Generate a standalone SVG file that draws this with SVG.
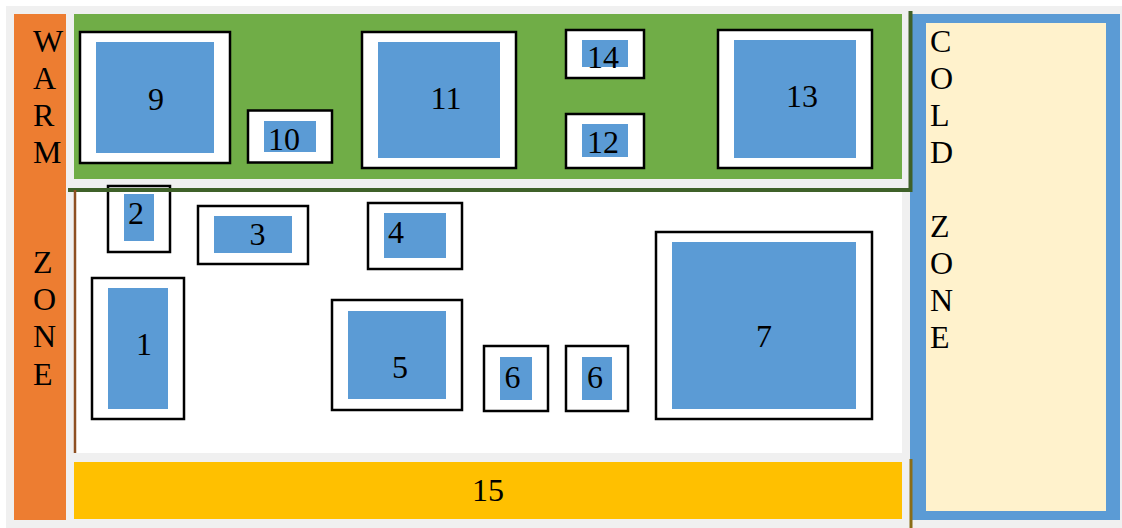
<svg xmlns="http://www.w3.org/2000/svg" width="1122" height="528" viewBox="0 0 1122 528">
  <style>
    .frame { fill: #ffffff; stroke: #000000; stroke-width: 2.5; }
    .core { fill: #5b9bd5; }
    .num { font-family: 'Liberation Serif', 'Times New Roman', serif; font-size: 32px; fill: #000000; text-anchor: middle; }
    .zone { font-family: 'Liberation Serif', 'Times New Roman', serif; font-size: 32px; fill: #000000; }
  </style>

  <!-- page -->
  <rect x="0" y="0" width="1122" height="528" fill="#ffffff"/>
  <rect x="6" y="6" width="1116" height="522" fill="#f0f0f0"/>

  <!-- zones -->
  <g id="warm-zone">
    <rect x="14" y="14" width="52" height="506" fill="#ed7d31"/>
    <text class="zone">
      <tspan x="33" y="52">W</tspan>
      <tspan x="33" y="89">A</tspan>
      <tspan x="33" y="126">R</tspan>
      <tspan x="33" y="163">M</tspan>
      <tspan x="33" y="273">Z</tspan>
      <tspan x="33" y="310">O</tspan>
      <tspan x="33" y="347">N</tspan>
      <tspan x="33" y="385">E</tspan>
    </text>
  </g>

  <g id="cold-zone">
    <rect x="910" y="14" width="210" height="506" fill="#5b9bd5"/>
    <rect x="926" y="23" width="180" height="488" fill="#fff2cc"/>
    <text class="zone">
      <tspan x="930" y="52">C</tspan>
      <tspan x="930" y="89">O</tspan>
      <tspan x="930" y="126">L</tspan>
      <tspan x="930" y="163">D</tspan>
      <tspan x="930" y="237">Z</tspan>
      <tspan x="930" y="274">O</tspan>
      <tspan x="930" y="311">N</tspan>
      <tspan x="930" y="348">E</tspan>
    </text>
  </g>

  <g id="upper-area">
    <rect x="74" y="14" width="828" height="165" fill="#70ad47"/>
  </g>

  <g id="floor-area">
    <rect x="74" y="191" width="828" height="262" fill="#ffffff"/>
  </g>

  <g id="n15">
    <rect x="74" y="462" width="828" height="57" fill="#ffc000"/>
    <text class="num" x="488" y="501">15</text>
  </g>

  <!-- upper row -->
  <g id="n9">
    <rect class="frame" x="80" y="32" width="150" height="131"/>
    <rect class="core" x="96" y="42" width="118" height="111"/>
    <text class="num" x="156" y="110">9</text>
  </g>
  <g id="n10">
    <rect class="frame" x="248" y="110.5" width="84" height="52"/>
    <rect class="core" x="264" y="121" width="52" height="31"/>
    <text class="num" x="284" y="150">10</text>
  </g>
  <g id="n11">
    <rect class="frame" x="362" y="32" width="154" height="136"/>
    <rect class="core" x="378" y="42" width="122" height="116"/>
    <text class="num" x="446" y="109">11</text>
  </g>
  <g id="n14">
    <rect class="frame" x="566" y="30" width="78" height="48"/>
    <rect class="core" x="582" y="40" width="46" height="27"/>
    <text class="num" x="603" y="68">14</text>
  </g>
  <g id="n12">
    <rect class="frame" x="566" y="114" width="78" height="54"/>
    <rect class="core" x="582" y="124" width="46" height="33"/>
    <text class="num" x="603" y="153">12</text>
  </g>
  <g id="n13">
    <rect class="frame" x="718" y="30" width="154" height="138"/>
    <rect class="core" x="734" y="40" width="122" height="118"/>
    <text class="num" x="802" y="107">13</text>
  </g>

  <!-- floor row -->
  <g id="n2">
    <rect class="frame" x="108" y="186" width="62" height="66"/>
    <rect class="core" x="124" y="194" width="30" height="47"/>
    <text class="num" x="136" y="224">2</text>
  </g>
  <g id="n3">
    <rect class="frame" x="198" y="206" width="110" height="58"/>
    <rect class="core" x="214" y="216" width="78" height="37"/>
    <text class="num" x="257.5" y="245">3</text>
  </g>
  <g id="n4">
    <rect class="frame" x="368" y="203" width="94" height="66"/>
    <rect class="core" x="384" y="213" width="62" height="45"/>
    <text class="num" x="396" y="243">4</text>
  </g>
  <g id="n1">
    <rect class="frame" x="92" y="278" width="92" height="141"/>
    <rect class="core" x="108" y="288" width="60" height="121"/>
    <text class="num" x="144" y="355">1</text>
  </g>
  <g id="n5">
    <rect class="frame" x="332" y="300" width="130" height="110"/>
    <rect class="core" x="348" y="311" width="98" height="88"/>
    <text class="num" x="400" y="378">5</text>
  </g>
  <g id="n6a">
    <rect class="frame" x="484" y="346" width="64" height="65"/>
    <rect class="core" x="500" y="357" width="32" height="43"/>
    <text class="num" x="512.5" y="388">6</text>
  </g>
  <g id="n6b">
    <rect class="frame" x="566" y="346" width="62" height="65"/>
    <rect class="core" x="582" y="357" width="30" height="43"/>
    <text class="num" x="595" y="388">6</text>
  </g>
  <g id="n7">
    <rect class="frame" x="656" y="232" width="216" height="187"/>
    <rect class="core" x="672" y="242" width="184" height="167"/>
    <text class="num" x="764" y="347">7</text>
  </g>

  <!-- divider lines -->
  <g id="connectors" fill="none">
    <path d="M68,190 H910.5 V11" stroke="#3f6129" stroke-width="4"/>
    <path d="M75,190 V453" stroke="#8e4f22" stroke-width="2.5"/>
    <path d="M911,459 V528" stroke="#8a6d18" stroke-width="3"/>
  </g>
</svg>
